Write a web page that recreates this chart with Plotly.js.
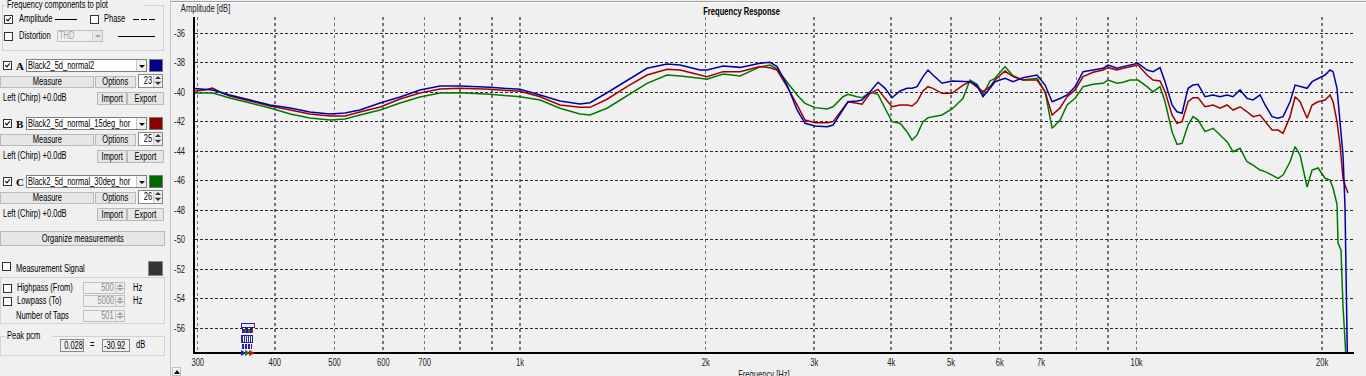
<!DOCTYPE html>
<html><head><meta charset="utf-8">
<script src="https://cdn.plot.ly/plotly-3.0.1.min.js"></script>
<style>
html,body{margin:0;padding:0;width:1366px;height:376px;overflow:hidden;background:#f0f0f0;}
body{font-family:"Liberation Sans",Arial,sans-serif;font-size:10px;color:#000;}
#chart{position:absolute;left:0;top:0;width:1366px;height:376px;}
#panel{position:absolute;left:0;top:0;width:170px;height:376px;background:#f0f0f0;border-right:1px solid #c4c4c4;z-index:5;}
#overlay{position:absolute;left:0;top:0;width:1366px;height:376px;pointer-events:none;z-index:6;}
#topline{position:absolute;left:171px;top:1px;width:1195px;height:0;border-top:1px solid #9a9a9a;border-bottom:1px solid #fff;z-index:6;}
.sx{display:inline-block;transform:scaleX(0.75);}
</style>
</head><body>
<div id="chart"></div>
<div id="panel"></div>
<div id="overlay"></div>
<div id="topline"></div>
<script>
// ---- data ----
const freq = [297,308,317,326,338,365,393,424,456,492,520,550,593,639,688,742,799,894,1000,1078,1161,1251,1299,1384,1491,1607,1732,1818,1959,2011,2135,2275,2451,2545,2612,2712,2815,2900,3011,3149,3220,3342,3405,3521,3588,3697,3809,3910,4013,4135,4244,4325,4407,4506,4591,4677,4837,5021,5233,5370,5513,5637,5787,5896,6120,6307,6546,6899,7109,7298,7520,7718,7952,8194,8506,8829,8995,9300,9511,9763,10060,10404,10640,10921,11128,11423,11638,11858,12126,12355,12589,12922,13315,13667,14028,14346,14728,15117,15461,15870,16170,16596,16972,17293,17752,18087,18428,18917,19273,19709,20230,20611,20844,21154];

const ampA = [-39.74,-39.81,-39.84,-39.98,-40.18,-40.52,-40.86,-41.06,-41.34,-41.47,-41.40,-41.20,-40.73,-40.32,-39.84,-39.57,-39.57,-39.66,-39.80,-40.18,-40.59,-40.79,-40.71,-40.03,-39.21,-38.37,-38.08,-38.15,-38.49,-38.49,-38.22,-38.31,-38.03,-37.97,-38.26,-39.51,-41.20,-42.10,-42.28,-42.33,-42.22,-41.20,-40.64,-40.59,-40.52,-39.96,-39.32,-39.73,-40.37,-39.91,-39.73,-39.73,-39.62,-38.94,-38.49,-38.83,-39.39,-39.23,-39.28,-39.28,-39.55,-40.30,-39.73,-39.28,-39.05,-39.28,-39.01,-38.83,-39.51,-40.64,-40.42,-40.18,-39.62,-38.60,-38.49,-38.37,-38.15,-38.37,-38.26,-38.15,-38.03,-38.49,-38.60,-38.33,-39.28,-40.86,-41.32,-41.42,-39.73,-39.51,-39.46,-40.30,-40.18,-40.30,-40.18,-40.30,-39.84,-40.41,-40.52,-40.18,-40.86,-41.65,-41.76,-41.65,-40.64,-39.51,-39.62,-39.73,-39.28,-39.05,-38.83,-38.49,-38.60,-39.73];
const tailFreqA = [21392,21634,21796,21880,21930,21990];
const tailA = [-41.99,-44.25,-47.76,-52.25,-55.44,-58.0];

const ampB = [-39.91,-39.84,-39.71,-39.98,-40.25,-40.59,-40.93,-41.20,-41.47,-41.61,-41.61,-41.34,-41.00,-40.45,-40.05,-39.78,-39.73,-39.80,-39.93,-40.30,-40.86,-41.02,-41.02,-40.47,-39.62,-38.83,-38.44,-38.49,-38.83,-38.94,-38.60,-38.60,-38.25,-38.33,-38.49,-39.62,-40.86,-41.88,-42.06,-42.06,-41.99,-41.08,-40.64,-40.75,-40.81,-40.07,-39.80,-40.41,-40.98,-40.86,-40.86,-40.93,-40.64,-39.91,-39.62,-39.73,-40.07,-40.07,-39.51,-39.28,-39.62,-39.96,-39.62,-39.17,-38.56,-38.94,-39.17,-39.17,-39.96,-41.54,-41.06,-40.30,-39.84,-38.94,-38.64,-38.49,-38.33,-38.49,-38.37,-38.26,-38.15,-38.83,-39.17,-39.23,-39.96,-41.54,-42.10,-41.99,-40.64,-40.37,-40.37,-40.98,-40.86,-41.08,-40.86,-41.20,-40.98,-41.32,-41.65,-41.54,-41.99,-42.56,-42.56,-42.78,-41.65,-40.30,-40.64,-41.76,-40.86,-40.64,-40.52,-40.18,-40.64,-41.99];
const tailFreqB = [21392,21634,21796,22039];
const tailB = [-43.57,-45.83,-46.28,-46.83];

const ampC = [-40.05,-40.05,-40.05,-40.18,-40.39,-40.73,-41.06,-41.47,-41.74,-41.88,-41.81,-41.54,-41.20,-40.73,-40.32,-40.05,-40.03,-40.14,-40.30,-40.52,-41.08,-41.47,-41.54,-41.08,-40.25,-39.39,-38.83,-38.89,-39.05,-39.12,-38.76,-38.89,-38.28,-38.15,-38.42,-39.28,-40.18,-40.75,-41.04,-41.13,-40.98,-40.30,-40.14,-40.30,-40.37,-40.00,-40.14,-41.08,-41.99,-42.10,-42.67,-43.23,-42.89,-41.99,-41.72,-41.65,-41.54,-41.13,-40.41,-39.17,-39.46,-40.18,-39.23,-39.05,-38.26,-38.87,-39.17,-39.05,-39.96,-42.44,-41.88,-40.86,-40.41,-39.62,-39.46,-39.39,-39.17,-39.39,-39.32,-39.17,-39.17,-39.62,-39.96,-39.62,-40.64,-42.67,-43.53,-43.46,-42.22,-41.65,-41.88,-42.67,-42.44,-42.89,-43.35,-44.03,-43.80,-44.71,-44.93,-45.27,-45.38,-45.61,-45.83,-45.61,-44.71,-43.69,-44.25,-46.42,-45.27,-45.13,-45.83,-45.95,-46.49,-47.60];
const tailFreqC = [21237,21472,21553,21634,21796,21877];
const tailC = [-50.22,-50.69,-52.93,-54.54,-56.79,-58.1];

const xTickVals = [300,400,500,600,700,800,900,1000,2000,3000,4000,5000,6000,7000,8000,9000,10000,20000];
const xTickText = ['300','400','500','600','700','','','1k','2k','3k','4k','5k','6k','7k','','','10k','20k'];
const yTickVals = [-56,-54,-52,-50,-48,-46,-44,-42,-40,-38,-36];
const yTickText = ['-56','-54','-52','-50','-48','-46','-44','-42','-40','-38','-36'];

const seriesNames = ['Black2_5d_normal2','Black2_5d_normal_15deg_hor','Black2_5d_normal_30deg_hor'];
const seriesColors = ['#0000a8','#a00000','#007800'];
const swatchColors = ['#00008c','#8c0000','#006800'];
const seriesNums = ['23','25','26'];

const FONT = '"Liberation Sans",Arial,sans-serif';
const SQ = 0.76; // horizontal squeeze of the reference's narrow UI font

const traces = [
  {x: freq.concat(tailFreqA), y: ampA.concat(tailA)},
  {x: freq.concat(tailFreqB), y: ampB.concat(tailB)},
  {x: freq.concat(tailFreqC), y: ampC.concat(tailC)}
].map((t,i)=>({x:t.x, y:t.y, type:'scatter', mode:'lines', name:seriesNames[i],
  line:{color:seriesColors[i], width:1.5}, hoverinfo:'skip'}));
const ordered = [traces[2], traces[1], traces[0]];

const L = 195, R = 1354, T = 17, B = 352;
const px = x => (x - L) / (R - L);
const py = y => (B - y) / (B - T);

const layout = {
  width:1366, height:376,
  margin:{l:L, r:1366-R, t:T, b:376-B, pad:0},
  paper_bgcolor:'#f0f0f0', plot_bgcolor:'#f0f0f0',
  showlegend:false,
  font:{family:FONT, size:10, color:'#222'},
  xaxis:{type:'log', range:[Math.log10(297), Math.log10(22540)],
    tickmode:'array', tickvals:xTickVals, ticktext:xTickText,
    showgrid:true, gridcolor:'#767676', gridwidth:1.6, griddash:'dot',
    showline:true, linecolor:'#000', linewidth:2, zeroline:false,
    ticks:'', tickfont:{family:FONT, size:10, color:'#222'}, fixedrange:true},
  yaxis:{range:[-57.607, -34.895], tickmode:'array', tickvals:yTickVals, ticktext:yTickText,
    showgrid:true, gridcolor:'#2a2a2a', gridwidth:1, griddash:'3px,2px',
    showline:true, linecolor:'#000', linewidth:2, zeroline:false,
    ticks:'', ticklabelstandoff:6, tickfont:{family:FONT, size:10, color:'#222'}, fixedrange:true},
  annotations:[
    {text:'<b>Frequency Response</b>', xref:'paper', yref:'paper', x:px(742), y:py(11), xanchor:'center', yanchor:'middle', showarrow:false, font:{family:FONT, size:10, color:'#000'}},
    {text:'Amplitude [dB]', xref:'paper', yref:'paper', x:px(205), y:py(8.5), xanchor:'center', yanchor:'middle', showarrow:false, font:{family:FONT, size:10, color:'#222'}},
    {text:'Frequency [Hz]', xref:'paper', yref:'paper', x:px(764), y:py(367), xanchor:'center', yanchor:'top', showarrow:false, font:{family:FONT, size:10, color:'#222'}}
  ]
};

function squeezeTexts(){
  const sel = document.querySelectorAll('#chart .xtick text, #chart .ytick text, #chart .annotation-text');
  sel.forEach(t=>{
    if(t.dataset.sq) return;
    const bb = t.getBBox();
    const isY = t.closest('.ytick') != null;
    const ax = isY ? bb.x + bb.width : bb.x + bb.width/2;
    const tr = t.getAttribute('transform') || '';
    t.setAttribute('transform', tr + ` translate(${ax},0) scale(${SQ},1) translate(${-ax},0)`);
    t.dataset.sq = '1';
  });
}
Plotly.newPlot('chart', ordered, layout, {displayModeBar:false, staticPlot:true}).then(squeezeTexts);

// ---- left control panel (UI chrome) ----
const panel = document.getElementById('panel');
const sx = (s, o) => `<span class="sx" style="transform-origin:${o||'left'} center">${s}</span>`;
function el(parent, css, html){ const d=document.createElement('div'); d.style.cssText='position:absolute;box-sizing:border-box;'+css; if(html!=null) d.innerHTML=html; parent.appendChild(d); return d; }
function txt(x,yc,s,extra){ return el(panel, `left:${x}px;top:${yc-6}px;line-height:12px;white-space:nowrap;${extra||''}`, sx(s)); }
function chk(x,y,on){ const b=el(panel, `left:${x}px;top:${y}px;width:9px;height:9px;border:1px solid #333;background:#fff;`);
  if(on) el(b, `left:2px;top:0px;width:3px;height:5px;border-right:1.6px solid #000;border-bottom:1.6px solid #000;transform:rotate(40deg);`); }
function btn(x,y,w,h,label){ return el(panel, `left:${x}px;top:${y}px;width:${w}px;height:${h}px;background:#e6e6e6;border:1px solid #b9b9b9;text-align:center;line-height:${h-2}px;white-space:nowrap;`, sx(label,'center')); }
function downArrow(parent,x,y,col){ el(parent, `left:${x}px;top:${y}px;width:0;height:0;border-left:3px solid transparent;border-right:3px solid transparent;border-top:3px solid ${col};`); }
function upArrow(parent,x,y,col){ el(parent, `left:${x}px;top:${y}px;width:0;height:0;border-left:3px solid transparent;border-right:3px solid transparent;border-bottom:3px solid ${col};`); }
function combo(x,y,w,h,label,disabled){
  const c = el(panel, `left:${x}px;top:${y}px;width:${w}px;height:${h}px;background:${disabled?'#f0f0f0':'#fff'};border:1px solid ${disabled?'#c0c0c0':'#7f7f7f'};overflow:hidden;`);
  el(c, `left:1px;top:0;line-height:${h-2}px;white-space:nowrap;color:${disabled?'#a0a0a0':'#000'};`, sx(label));
  const b = el(c, `right:0;top:0;width:10px;height:${h-2}px;background:${disabled?'#e8e8e8':'#f0f0f0'};border-left:1px solid ${disabled?'#d0d0d0':'#c8c8c8'};`);
  downArrow(b, 2, Math.round((h-2)/2)-1, disabled?'#a0a0a0':'#000');
}
function spin(x,y,w,h,val,disabled){
  const c = el(panel, `left:${x}px;top:${y}px;width:${w}px;height:${h}px;background:${disabled?'#f0f0f0':'#fff'};border:1px solid ${disabled?'#c0c0c0':'#8a8a8a'};`);
  el(c, `right:10px;top:0;line-height:${h-2}px;white-space:nowrap;color:${disabled?'#8a8a8a':'#000'};`, sx(val,'right'));
  const b = el(c, `right:0;top:0;width:9px;height:${h-2}px;background:#ececec;border-left:1px solid #c8c8c8;`);
  el(b, `left:0;top:${Math.floor((h-2)/2)}px;width:8px;height:1px;background:#c0c0c0;`);
  upArrow(b, 1, 1, disabled?'#a0a0a0':'#333'); downArrow(b, 1, h-7, disabled?'#a0a0a0':'#333');
}
function group(x,y,w,h){ el(panel, `left:${x}px;top:${y}px;width:${w}px;height:${h}px;border:1px solid #d2d2d2;`); }
function hline(x,y,w){ el(panel, `left:${x}px;top:${y}px;width:${w}px;height:0;border-top:1.5px solid #000;`); }

// Frequency components group
group(2,5,162,46);
txt(6,5,'Frequency components to plot','background:#f0f0f0;padding:0 1px;');
chk(4,15,true); txt(19,19,'Amplitude'); hline(55,19,22);
chk(90,15,false); txt(104,19,'Phase');
hline(133,19,6); hline(141,19,6); hline(149,19,6);
chk(4,32,false); txt(19,36,'Distortion');
combo(57,30,46,12,'THD',true);
hline(118,36,37);

// measurement rows
['A','B','C'].forEach((ltr,i)=>{
  const o = i*58;
  chk(3,61+o,true);
  el(panel, `left:16px;top:${60+o}px;line-height:12px;font-weight:bold;font-size:11px;font-family:"Liberation Serif",serif;`, ltr);
  combo(26,59+o,121,13,seriesNames[i],false);
  el(panel, `left:149px;top:${59+o}px;width:14px;height:13px;background:${swatchColors[i]};border:1px solid #777;`);
  btn(0,76+o,94,12,'Measure');
  btn(95,76+o,41,12,'Options');
  spin(138,74+o,25,14,seriesNums[i],false);
  txt(3,98+o,'Left (Chirp) +0.0dB');
  btn(97,92+o,30,13,'Import');
  btn(127,92+o,37,13,'Export');
});

btn(0,231,165,15,'Organize measurements');

chk(2,262,false); txt(16,269,'Measurement Signal');
el(panel,'left:148px;top:261px;width:15px;height:15px;background:#333;border:1px solid #888;');
group(0,277,165,47);
chk(3,284,false); txt(17,288,'Highpass (From)'); spin(83,282,42,12,'500',true); txt(133,288,'Hz');
chk(3,297,false); txt(17,301,'Lowpass (To)'); spin(83,295,42,12,'5000',true); txt(133,301,'Hz');
txt(16,316,'Number of Taps'); spin(83,310,42,12,'501',true);

group(0,336,165,20);
txt(6,336,'Peak pcm','background:#f0f0f0;padding:0 1px;');
el(panel,'left:60px;top:339px;width:24px;height:13px;border:1px solid #8a8a8a;background:#f0f0f0;line-height:11px;text-align:center;', sx('0.028','center'));
txt(90,345,'=');
el(panel,'left:102px;top:339px;width:28px;height:13px;border:1px solid #8a8a8a;background:#f0f0f0;line-height:11px;padding-left:1px;', sx('-30.92'));
txt(136,345,'dB');

// ---- small cursor flags and scroll glyph on chart ----
const ov = document.getElementById('overlay');
el(ov,'left:241px;top:323px;width:14px;height:5px;border:1px solid #2020b0;border-right-color:#b02020;');
el(ov,'left:242px;top:329px;width:11px;height:4px;background:repeating-linear-gradient(90deg,#2020b0 0 2px,#a03030 2px 3px,#208020 3px 4px);');
el(ov,'left:241px;top:335px;width:12px;height:8px;border:1px solid #2020b0;background:repeating-linear-gradient(90deg,#3030a0 0 1px,#f0f0f0 1px 2px);');
el(ov,'left:242px;top:344px;width:10px;height:5px;background:repeating-linear-gradient(90deg,#2020b0 0 2px,#f0f0f0 2px 3px);');
el(ov,'left:241px;top:350px;width:0;height:0;border-top:3px solid transparent;border-bottom:3px solid transparent;border-left:5px solid #1020c0;');
el(ov,'left:245px;top:350px;width:0;height:0;border-top:3px solid transparent;border-bottom:3px solid transparent;border-left:5px solid #108010;');
el(ov,'left:249px;top:350px;width:0;height:0;border-top:3px solid transparent;border-bottom:3px solid transparent;border-left:6px solid #c01010;');
el(ov,'left:172px;top:367px;width:9px;height:9px;border:1px solid #c0c0c0;background:#f4f4f4;');
el(ov,'left:174px;top:370px;width:0;height:0;border-left:3px solid transparent;border-right:3px solid transparent;border-bottom:4px solid #000;');
</script>
</body></html>
